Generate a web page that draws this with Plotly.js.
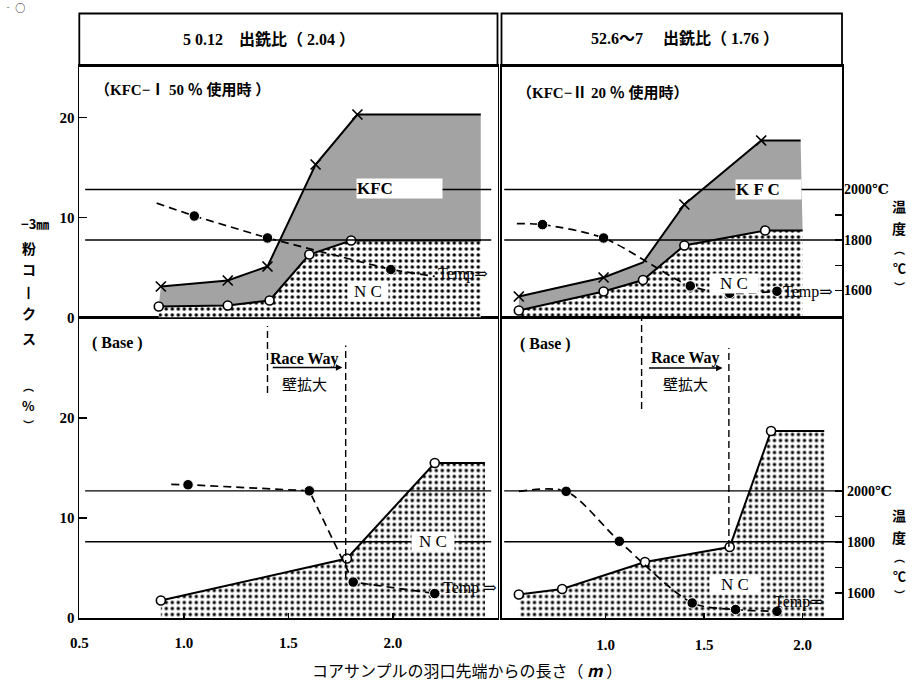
<!DOCTYPE html>
<html>
<head>
<meta charset="utf-8">
<script src="https://cdn.plot.ly/plotly-3.0.1.min.js"></script>
<style>
html,body{margin:0;padding:0;background:#fff;}
#chart{width:923px;height:682px;}
</style>
</head>
<body>
<div id="chart"></div>
<script>
// ================= DATA =================
// Top-left panel : 50.12  (KFC-I 50% use)
const tlKfcX        = [0.89, 1.21, 1.40, 1.63, 1.83, 2.42];
const tlKfc         = [3.1, 3.7, 5.1, 15.3, 20.3, 20.3];
const tlKfcMeasured = [1, 1, 1, 1, 1, 0];
const tlNcX         = [0.88, 1.21, 1.41, 1.60, 1.80, 2.42];
const tlNc          = [1.1, 1.2, 1.7, 6.3, 7.7, 7.7];
const tlNcMeasured  = [1, 1, 1, 1, 1, 0];
const tlTempX       = [0.87, 1.05, 1.40, 1.99, 2.20];
const tlTemp        = [1946, 1895, 1808, 1683, 1656];
const tlTempMeasured= [0, 1, 1, 1, 0];

// Top-right panel : 52.6~7 (KFC-II 20% use)
const trKfcX        = [0.56, 0.99, 1.19, 1.40, 1.79, 1.99];
const trKfc         = [2.1, 4.0, 5.5, 11.3, 17.7, 17.7];
const trKfcMeasured = [1, 1, 0, 1, 1, 0];
const trNcX         = [0.56, 0.99, 1.19, 1.40, 1.81, 2.00];
const trNc          = [0.7, 2.6, 3.75, 7.2, 8.7, 8.7];
const trNcMeasured  = [1, 1, 1, 1, 1, 0];
const trTempX       = [0.55, 0.68, 0.99, 1.43, 1.63, 1.87];
const trTemp        = [1865, 1861, 1808, 1618, 1589, 1597];
const trTempMeasured= [0, 1, 1, 1, 1, 1];

// Bottom-left panel : Base (50.12)
const blNcX         = [0.89, 1.78, 2.20, 2.44];
const blNc          = [1.75, 5.95, 15.5, 15.5];
const blNcMeasured  = [1, 1, 1, 0];
const blTempX       = [0.94, 1.02, 1.60, 1.81, 2.20];
const blTemp        = [2025, 2024, 2000, 1642, 1597];
const blTempMeasured= [0, 1, 1, 1, 1];

// Bottom-right panel : Base (52.6~7)
const brNcX         = [0.56, 0.78, 1.20, 1.63, 1.84, 2.11];
const brNc          = [2.35, 2.9, 5.6, 7.1, 18.7, 18.7];
const brNcMeasured  = [1, 1, 1, 1, 1, 0];
const brTempX       = [0.56, 0.80, 1.07, 1.44, 1.66, 1.87];
const brTemp        = [1998, 1998, 1802, 1560, 1534, 1527];
const brTempMeasured= [0, 1, 1, 1, 1, 1];

// Race Way boundaries (m) : [start, end]
const raceWayLeft  = [1.40, 1.774];
const raceWayRight = [1.183, 1.626];

// Ticks / labels
const xTickValsL  = [0.5, 1.0, 1.5, 2.0];
const xTickTextL  = ['0.5', '1.0', '1.5', '2.0'];
const xTickValsR  = [1.0, 1.5, 2.0];
const xTickTextR  = ['1.0', '1.5', '2.0'];
const pctTicks    = [0, 10, 20];
const pctTickText = ['0', '10', '20'];
const tempTicks   = [1600, 1700, 1800, 1900, 2000];
const tempTickText= ['1600', '', '1800', '', '2000℃'];
const tempRefLines= [1800, 2000];
const headerLeft  = '5 0.12　出銑比（ 2.04 ）';
const headerRight = '52.6〜7　 出銑比（ 1.76 ）';
const subLeft     = '（KFC−Ⅰ 50 ％ 使用時 ）';
const subRight    = '（KFC−Ⅱ 20 ％ 使用時）';
const xTitle      = 'コアサンプルの羽口先端からの長さ（ <b><i>m</i></b> ）';

// ================= STYLE / LAYOUT =================
const W = 923, H = 682;
const SERIF = 'Liberation Serif, DejaVu Serif, serif';
const JP = 'Noto Sans CJK JP, sans-serif';
const MIX = 'Liberation Serif, Noto Sans CJK JP, serif';

const colL = [79.3 / W, 497.5 / W];
const colR = [501.5 / W, 842 / W];
const rowT = [1 - 317.5 / H, 1 - 66 / H];
const rowB = [1 - 618 / H, 1 - 317.5 / H];
const pctRangeT = [0, 25.15];
const pctRangeB = [0, 30.05];
const tempRangeT = [1493.1, 2489.1];
const tempRangeB = [1500.9, 2680.3];
const xRangeL = [0.5, 2.5];
const xRangeR = [0.472, 2.2];

function sz(flags, s) { return flags.map(f => f ? s : 0); }
function op(flags) { return flags.map(f => f ? 1 : 0); }

function ncTrace(x, y, flags, xa, ya) {
  return {
    type: 'scatter', mode: 'lines+markers', x: x, y: y, xaxis: xa, yaxis: ya,
    fill: 'tozeroy',
    fillpattern: {shape: '.', fgcolor: '#000', bgcolor: '#fff', size: 6, solidity: 0.26},
    line: {color: '#000', width: 2},
    marker: {symbol: 'circle', color: '#fff', size: sz(flags, 9), opacity: op(flags),
             line: {color: '#000', width: 1.6}},
    hoverinfo: 'skip', showlegend: false, cliponaxis: false
  };
}
function kfcTrace(x, y, flags, xa, ya) {
  return {
    type: 'scatter', mode: 'lines+markers', x: x, y: y, xaxis: xa, yaxis: ya,
    fill: 'tonexty', fillcolor: '#a3a3a3',
    line: {color: '#000', width: 2},
    marker: {symbol: 'x-thin', size: sz(flags, 10), opacity: op(flags),
             line: {color: '#000', width: 1.7}},
    hoverinfo: 'skip', showlegend: false, cliponaxis: false
  };
}
function tempTrace(x, y, flags, xa, ya, smooth) {
  return {
    type: 'scatter', mode: 'lines+markers', x: x, y: y, xaxis: xa, yaxis: ya,
    line: {color: '#000', width: 1.7, dash: '8px,5px', shape: smooth ? 'spline' : 'linear', smoothing: 0.8},
    marker: {symbol: 'circle', color: '#000', size: sz(flags, 10.5), opacity: op(flags)},
    hoverinfo: 'skip', showlegend: false, cliponaxis: false
  };
}

const data = [
  // top-left
  ncTrace(tlNcX, tlNc, tlNcMeasured, 'x2', 'y'),
  kfcTrace(tlKfcX, tlKfc, tlKfcMeasured, 'x2', 'y'),
  tempTrace(tlTempX, tlTemp, tlTempMeasured, 'x2', 'y5', false),
  // bottom-left
  ncTrace(blNcX, blNc, blNcMeasured, 'x', 'y2'),
  tempTrace(blTempX, blTemp, blTempMeasured, 'x', 'y6', false),
  // top-right
  ncTrace(trNcX, trNc, trNcMeasured, 'x3', 'y3'),
  kfcTrace(trKfcX, trKfc, trKfcMeasured, 'x3', 'y3'),
  tempTrace(trTempX, trTemp, trTempMeasured, 'x3', 'y7', true),
  // bottom-right
  ncTrace(brNcX, brNc, brNcMeasured, 'x4', 'y4'),
  tempTrace(brTempX, brTemp, brTempMeasured, 'x4', 'y8', true)
];

const frame = {showline: true, mirror: true, linecolor: '#000', linewidth: 1.8,
               showgrid: false, zeroline: false, fixedrange: true};
const noTicks = {ticks: '', showticklabels: false};
const tickFontB = {family: SERIF, size: 15, color: '#000', weight: 'bold'};

const layout = {
  width: W, height: H,
  margin: {l: 0, r: 0, t: 0, b: 0},
  paper_bgcolor: '#fff', plot_bgcolor: 'rgba(0,0,0,0)',
  showlegend: false,
  xaxis: Object.assign({}, frame, {domain: colL, anchor: 'y2', range: xRangeL,
    tickmode: 'array', tickvals: xTickValsL, ticktext: xTickTextL,
    ticks: 'inside', ticklen: 5, tickwidth: 1.5, tickcolor: '#000',
    tickfont: {family: SERIF, size: 15, color: '#000', weight: 'bold'}, ticklabelstandoff: 10}),
  xaxis2: Object.assign({}, frame, noTicks, {domain: colL, anchor: 'y', range: xRangeL}),
  xaxis3: Object.assign({}, frame, noTicks, {domain: colR, anchor: 'y3', range: xRangeR}),
  xaxis4: Object.assign({}, frame, {domain: colR, anchor: 'y4', range: xRangeR,
    tickmode: 'array', tickvals: xTickValsR, ticktext: xTickTextR,
    ticks: 'inside', ticklen: 5, tickwidth: 1.5, tickcolor: '#000',
    tickfont: {family: SERIF, size: 15, color: '#000', weight: 'bold'}, ticklabelstandoff: 12}),
  yaxis: Object.assign({}, frame, {domain: rowT, anchor: 'x2', range: pctRangeT,
    tickmode: 'array', tickvals: pctTicks, ticktext: pctTickText,
    ticks: 'inside', ticklen: 8, tickwidth: 1.5, tickcolor: '#000', tickfont: tickFontB}),
  yaxis2: Object.assign({}, frame, {domain: rowB, anchor: 'x', range: pctRangeB,
    tickmode: 'array', tickvals: pctTicks, ticktext: pctTickText,
    ticks: 'inside', ticklen: 8, tickwidth: 1.5, tickcolor: '#000', tickfont: tickFontB}),
  yaxis3: Object.assign({}, frame, noTicks, {domain: rowT, anchor: 'x3', range: pctRangeT}),
  yaxis4: Object.assign({}, frame, noTicks, {domain: rowB, anchor: 'x4', range: pctRangeB}),
  yaxis5: {overlaying: 'y', anchor: 'x2', range: tempRangeT, visible: false, fixedrange: true},
  yaxis6: {overlaying: 'y2', anchor: 'x', range: tempRangeB, visible: false, fixedrange: true},
  yaxis7: {overlaying: 'y3', anchor: 'x3', side: 'right', range: tempRangeT,
    showline: false, showgrid: false, zeroline: false, fixedrange: true,
    tickmode: 'array', tickvals: tempTicks, ticktext: tempTickText,
    ticks: 'inside', ticklen: 7, tickwidth: 1.5, tickcolor: '#000',
    tickfont: {family: SERIF, size: 14, color: '#000', weight: 'bold'}, ticklabelstandoff: 1},
  yaxis8: {overlaying: 'y4', anchor: 'x4', side: 'right', range: tempRangeB,
    showline: false, showgrid: false, zeroline: false, fixedrange: true,
    tickmode: 'array', tickvals: tempTicks, ticktext: tempTickText,
    ticks: 'inside', ticklen: 7, tickwidth: 1.5, tickcolor: '#000',
    tickfont: {family: SERIF, size: 14, color: '#000', weight: 'bold'}, ticklabelstandoff: 4},
  shapes: [],
  annotations: []
};

// header boxes
[colL, colR].forEach(c => layout.shapes.push({type: 'rect', xref: 'paper', yref: 'paper',
  x0: c[0], x1: c[1], y0: rowT[1], y1: 1 - 13.5 / H, line: {color: '#000', width: 1.8}}));

// temperature reference lines (1800, 2000)
[['x2', 'y5', 0.014, 0.985], ['x', 'y6', 0.014, 0.985], ['x3', 'y7', 0.008, 1], ['x4', 'y8', 0.008, 1]]
  .forEach(([xa, ya, a, b]) => tempRefLines.forEach(t => layout.shapes.push({
    type: 'line', xref: xa + ' domain', yref: ya, x0: a, x1: b, y0: t, y1: t,
    line: {color: '#000', width: 1.4}, layer: 'above'})));

// Race Way dashed boundaries
function vdash(xa, ya, x, y0, y1) {
  layout.shapes.push({type: 'line', xref: xa, yref: ya, x0: x, x1: x, y0: y0, y1: y1,
    line: {color: '#000', width: 1.4, dash: '7px,4px'}, layer: 'above'});
}
vdash('x', 'y2', raceWayLeft[0], 22.5, 29.2);
vdash('x', 'y2', raceWayLeft[1], 4.0, 27.25);
vdash('x4', 'y4', raceWayRight[0], 20.9, 30.05);
vdash('x4', 'y4', raceWayRight[1], 7.1, 27.0);

const A = layout.annotations;
function txt(xa, ya, x, y, text, font, extra) {
  A.push(Object.assign({xref: xa, yref: ya, x: x, y: y, text: text, showarrow: false, font: font,
    xanchor: 'center', yanchor: 'middle'}, extra || {}));
}
const fSub = {family: MIX, size: 15, color: '#000', weight: 'bold'};
const fLab = {family: SERIF, size: 17, color: '#000', weight: 'bold'};
const fNc = {family: SERIF, size: 17, color: '#000'};
const fTemp = {family: SERIF, size: 16, color: '#000'};
const fBase = {family: SERIF, size: 16, color: '#000', weight: 'bold'};
const fJP = {family: JP, size: 15, color: '#000'};

// headers
txt('paper', 'paper', 268.5 / W, 1 - 38.6 / H, headerLeft, {family: MIX, size: 16, color: '#000', weight: 'bold'});
txt('paper', 'paper', 684.8 / W, 1 - 37.8 / H, headerRight, {family: MIX, size: 16, color: '#000', weight: 'bold'});

// top-left
txt('x2', 'y', 0.567, 22.8, subLeft, fSub, {xanchor: 'left'});
txt('x2', 'y', 2.029, 12.89, 'KFC', fLab, {bgcolor: '#fff', width: 85, height: 19, align: 'left', borderpad: 0});
txt('x2', 'y', 1.882, 2.65, 'N C', fNc, {bgcolor: '#fff', width: 40, height: 19, borderpad: 0});
txt('x2', 'y', 2.207, 4.38, 'Temp⇒', fTemp, {xanchor: 'left'});
// top-right
txt('x3', 'y3', 0.543, 22.46, subRight, fSub, {xanchor: 'left'});
txt('x3', 'y3', 1.826, 12.78, 'K F C', fLab, {bgcolor: '#fff', width: 65, height: 19, align: 'left', borderpad: 0});
txt('x3', 'y3', 1.652, 3.4, 'N C', fNc, {bgcolor: '#fff', width: 48, height: 19, borderpad: 0});
txt('x3', 'y3', 1.891, 2.55, 'Temp⇒', fTemp, {xanchor: 'left'});
// bottom-left
txt('x', 'y2', 0.55, 27.55, '( Base )', fBase, {xanchor: 'left'});
txt('x', 'y2', 1.578, 25.94, 'Race Way', fBase);
txt('x', 'y2', 1.578, 23.44, '壁拡大', fJP);
A.push({xref: 'x', yref: 'y2', x: raceWayLeft[1] - 0.016, y: 25.05, axref: 'x', ayref: 'y2',
  ax: raceWayLeft[0] + 0.018, ay: 25.05, text: '', showarrow: true, arrowhead: 2, arrowsize: 1, arrowwidth: 1.3, arrowcolor: '#000'});
txt('x', 'y2', 2.19, 7.65, 'N C', fNc, {bgcolor: '#fff', width: 42, height: 19, borderpad: 0});
txt('x', 'y2', 2.23, 3.04, 'Temp ⇒', fTemp, {xanchor: 'left'});
// bottom-right
txt('x4', 'y4', 0.557, 27.42, '( Base )', fBase, {xanchor: 'left'});
txt('x4', 'y4', 1.407, 26.0, 'Race Way', fBase);
txt('x4', 'y4', 1.407, 23.5, '壁拡大', fJP);
A.push({xref: 'x4', yref: 'y4', x: raceWayRight[1] - 0.032, y: 25.0, axref: 'x4', ayref: 'y4',
  ax: raceWayRight[0] + 0.03, ay: 25.0, text: '', showarrow: true, arrowhead: 2, arrowsize: 1, arrowwidth: 1.3, arrowcolor: '#000'});
txt('x4', 'y4', 1.655, 3.39, 'N C', fNc, {bgcolor: '#fff', width: 50, height: 19, borderpad: 0});
txt('x4', 'y4', 1.847, 1.6, 'Temp⇒', fTemp, {xanchor: 'left'});

// left vertical axis title
[['−3㎜', 223.5, 35, 13], ['粉', 247.5, 28.5, 14], ['コ', 268.5, 28.5, 14], ['丨', 291, 28.5, 13],
 ['ク', 313, 28.5, 14], ['ス', 337.5, 28.5, 14], ['︵', 386, 28.5, 11], ['%', 405.5, 28.5, 13],
 ['︶', 425, 28.5, 11]]
  .forEach(([t, y, x, s]) => txt('paper', 'paper', x / W, 1 - y / H, t,
    {family: JP, size: s, color: '#000', weight: 'bold'}, {borderpad: 0}));
// right vertical axis titles
[206.5, 514.7].forEach(y0 => {
  [['温', 0, 14], ['度', 22, 14], ['︵', 42, 11], ['℃', 61, 13], ['︶', 80, 11]].forEach(([t, dy, s]) =>
    txt('paper', 'paper', 899 / W, 1 - (y0 + dy) / H, t, {family: JP, size: s, color: '#000', weight: 'bold'}, {borderpad: 0}));
});
// x axis title
txt('paper', 'paper', 466.8 / W, 1 - 670 / H, xTitle, {family: JP, size: 16, color: '#000'});
// stray scan mark top-left
txt('paper', 'paper', 1 / W, 1 - 8 / H, '‐ ○', {family: JP, size: 10, color: '#000'}, {xanchor: 'left'});

Plotly.newPlot('chart', data, layout, {staticPlot: true, displayModeBar: false});
</script>
</body>
</html>
